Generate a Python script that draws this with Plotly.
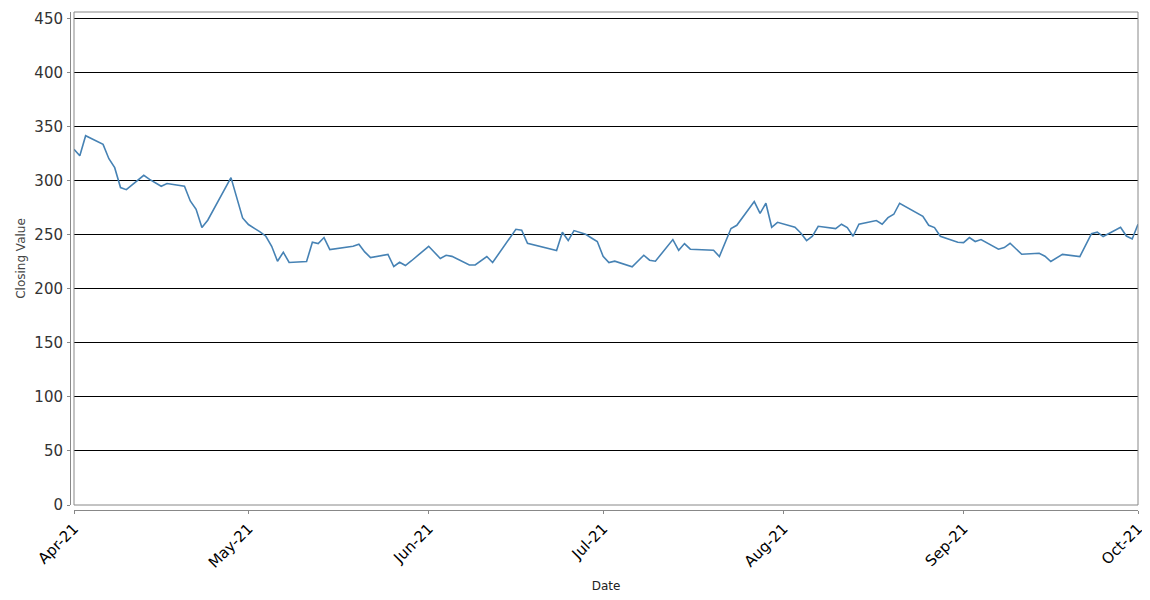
import plotly.graph_objects as go

dates = [
    "2021-04-01", "2021-04-02", "2021-04-03", "2021-04-06", "2021-04-07", "2021-04-08",
    "2021-04-09", "2021-04-10", "2021-04-13", "2021-04-14", "2021-04-16", "2021-04-17",
    "2021-04-20", "2021-04-21", "2021-04-22", "2021-04-23", "2021-04-24", "2021-04-28",
    "2021-04-30", "2021-05-01", "2021-05-03", "2021-05-04", "2021-05-05", "2021-05-06",
    "2021-05-07", "2021-05-08", "2021-05-11", "2021-05-12", "2021-05-13", "2021-05-14",
    "2021-05-15", "2021-05-19", "2021-05-20", "2021-05-21", "2021-05-22", "2021-05-25",
    "2021-05-26", "2021-05-27", "2021-05-28", "2021-05-29", "2021-06-01", "2021-06-03",
    "2021-06-04", "2021-06-05", "2021-06-08", "2021-06-09", "2021-06-11", "2021-06-12",
    "2021-06-16", "2021-06-17", "2021-06-18", "2021-06-23", "2021-06-24", "2021-06-25",
    "2021-06-26", "2021-06-28", "2021-06-29", "2021-06-30", "2021-07-01", "2021-07-02",
    "2021-07-03", "2021-07-06", "2021-07-08", "2021-07-09", "2021-07-10", "2021-07-13",
    "2021-07-14", "2021-07-15", "2021-07-16", "2021-07-20", "2021-07-21", "2021-07-22",
    "2021-07-23", "2021-07-24", "2021-07-27", "2021-07-28", "2021-07-29", "2021-07-30",
    "2021-07-31", "2021-08-03", "2021-08-04", "2021-08-05", "2021-08-06", "2021-08-07",
    "2021-08-10", "2021-08-11", "2021-08-12", "2021-08-13", "2021-08-14", "2021-08-17",
    "2021-08-18", "2021-08-19", "2021-08-20", "2021-08-21", "2021-08-25", "2021-08-26",
    "2021-08-27", "2021-08-28", "2021-08-31", "2021-09-01", "2021-09-02", "2021-09-03",
    "2021-09-04", "2021-09-07", "2021-09-08", "2021-09-09", "2021-09-11", "2021-09-14",
    "2021-09-15", "2021-09-16", "2021-09-18", "2021-09-21", "2021-09-23", "2021-09-24",
    "2021-09-25", "2021-09-26", "2021-09-28", "2021-09-29", "2021-09-30", "2021-10-01",
]

closing = [
    329.0, 323.0, 341.6, 333.6, 320.3, 312.0,
    293.6, 291.7, 304.9, 301.2, 294.8, 297.3,
    294.8, 281.2, 273.5, 256.6, 263.4, 302.8,
    265.5, 259.4, 252.6, 248.6, 239.3, 225.5,
    233.8, 224.3, 225.2, 243.0, 241.8, 247.4,
    236.3, 239.3, 241.2, 234.1, 228.9, 231.7,
    220.6, 224.5, 221.5, 225.7, 239.3, 228.0,
    231.0, 230.0, 222.0, 222.0, 229.8, 224.3,
    255.0, 254.1, 242.1, 235.3, 252.3, 244.6,
    253.8, 250.4, 247.0, 243.7, 230.1, 224.3,
    225.5, 220.4, 231.0, 226.4, 225.5, 245.5,
    235.6, 241.8, 236.6, 235.6, 229.8, 243.3,
    255.7, 258.7, 280.6, 269.8, 279.1, 256.9,
    261.5, 256.9, 251.6, 244.6, 248.6, 257.8,
    255.7, 259.7, 256.6, 248.6, 259.7, 263.1,
    259.7, 265.8, 268.9, 279.1, 267.0, 258.7,
    256.6, 248.6, 243.0, 242.7, 247.4, 243.7,
    245.5, 236.6, 238.1, 242.1, 231.9, 232.9,
    230.1, 225.2, 231.8, 229.8, 251.0, 252.4,
    248.3, 251.1, 256.9, 248.8, 246.1, 259.7,
]

y_ticks = [0, 50, 100, 150, 200, 250, 300, 350, 400, 450]
x_ticks = ["2021-04-01", "2021-05-01", "2021-06-01", "2021-07-01",
           "2021-08-01", "2021-09-01", "2021-10-01"]
x_tick_labels = ["Apr-21", "May-21", "Jun-21", "Jul-21", "Aug-21", "Sep-21", "Oct-21"]

# the page body has an 8px margin, so the figure is sized to fit the window
W, H = 1142, 592
ml, mr, mt, mb = 62, 12, 4, 90
pw = W - ml - mr
ph = H - mt - mb
FONT = "DejaVu Sans"

fig = go.Figure()
fig.add_trace(go.Scatter(
    x=dates, y=closing, mode="lines",
    line=dict(color="#4682b4", width=1.6),
    hoverinfo="x+y", showlegend=False,
))

fig.update_layout(
    width=W, height=H,
    margin=dict(l=ml, r=mr, t=mt, b=mb, pad=0, autoexpand=False),
    paper_bgcolor="white", plot_bgcolor="white",
    font=dict(family=FONT),
    xaxis=dict(
        domain=[4 / pw, 1], anchor="free", position=0, automargin=False,
        type="date", range=["2021-04-01", "2021-10-01"],
        tickmode="array", tickvals=x_ticks, ticktext=x_tick_labels,
        tickangle=-45, tickfont=dict(family=FONT, size=15, color="#000"),
        showline=True, linecolor="#888", linewidth=1,
        ticks="outside", ticklen=3, tickcolor="#888",
        showgrid=False, zeroline=False,
        title=dict(text="Date", font=dict(family=FONT, size=12, color="#222"), standoff=10),
    ),
    yaxis=dict(
        domain=[5 / ph, 1], anchor="free", position=0, automargin=False,
        range=[0, 456],
        tickmode="array", tickvals=y_ticks,
        tickfont=dict(family=FONT, size=15, color="#333"),
        showline=True, linecolor="#888", linewidth=1,
        ticks="outside", ticklen=3, tickcolor="#888",
        ticklabelstandoff=1,
        showgrid=True, gridcolor="#000", gridwidth=1,
        zeroline=False,
        title=dict(text="Closing Value", font=dict(family=FONT, size=12, color="#444"), standoff=5),
    ),
    shapes=[dict(
        type="rect", xref="x domain", yref="y domain",
        x0=0, x1=1, y0=0, y1=1,
        line=dict(color="#888", width=1), fillcolor="rgba(0,0,0,0)", layer="above",
    )],
)

fig.write_html("out.html")
